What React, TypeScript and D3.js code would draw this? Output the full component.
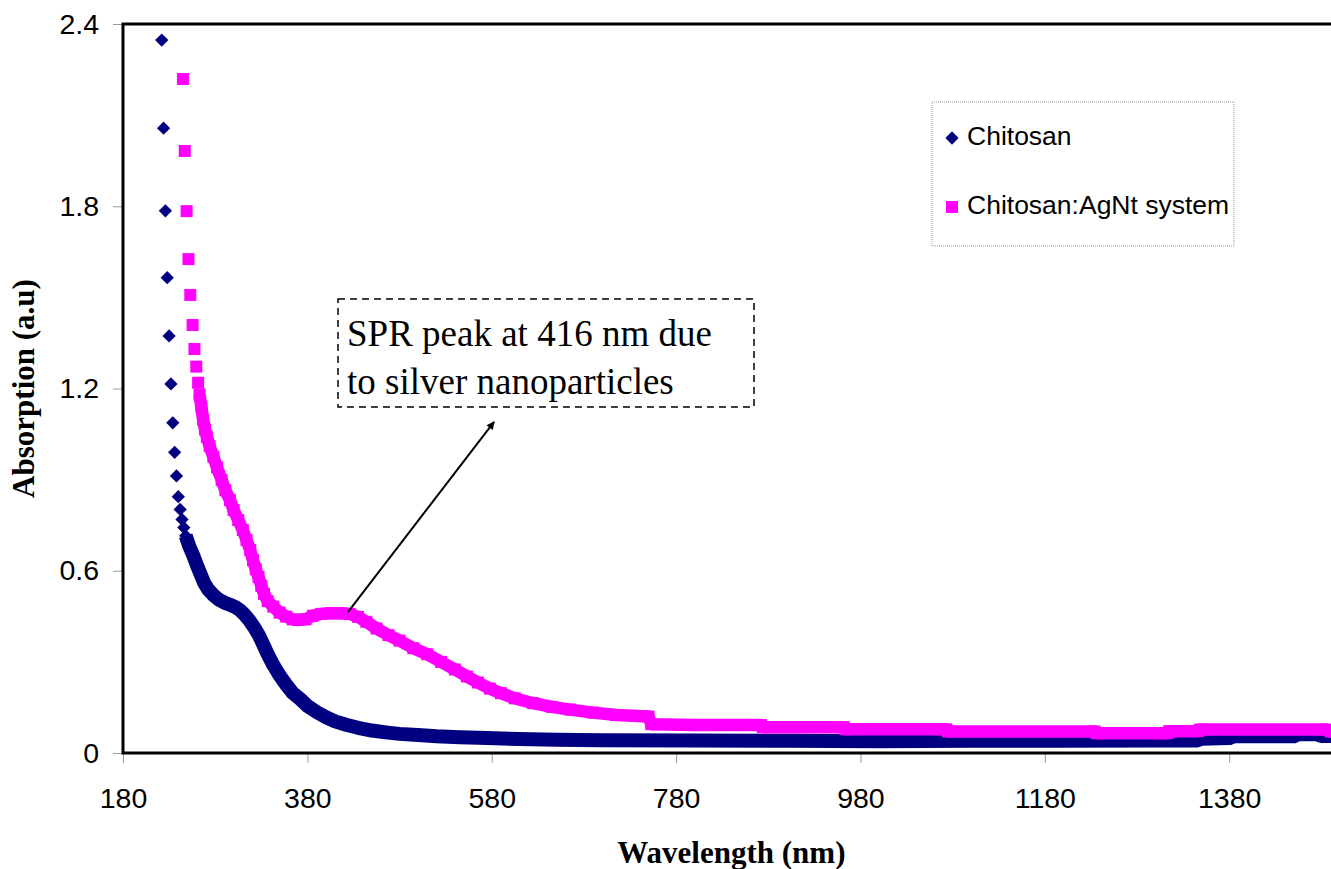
import React, { useEffect, useRef } from "react";
import * as d3 from "d3";

// Chitosan: isolated readings at the top, then the dense trace
const chitosanSparseNm = [222, 224, 226, 228, 230, 232, 234, 236, 238, 240, 242, 244, 246];
const chitosanSparseAbs = [2.347, 2.057, 1.785, 1.565, 1.373, 1.215, 1.087, 0.99, 0.912, 0.844, 0.802, 0.769, 0.742];
const chitosanNm = [
  248, 252, 256, 260, 264, 268, 272, 278, 284, 290, 296, 302, 307, 312, 317, 322, 327, 332, 337, 343,
  350, 357, 364, 372, 380, 390, 400, 410, 422, 435, 450, 465, 480, 500, 520, 545, 575, 610, 650, 700,
  800, 900, 1000, 1100, 1200, 1300, 1345, 1350, 1380, 1385, 1450, 1455, 1475, 1480, 1500,
];
const chitosanAbs = [
  0.715, 0.68, 0.652, 0.62, 0.59, 0.56, 0.54, 0.52, 0.505, 0.495, 0.488, 0.48, 0.47, 0.455, 0.437, 0.415, 0.39, 0.358, 0.325, 0.29,
  0.255, 0.225, 0.198, 0.178, 0.155, 0.135, 0.118, 0.104, 0.093, 0.083, 0.074, 0.068, 0.063, 0.059, 0.055, 0.052, 0.049, 0.046, 0.044, 0.042,
  0.041, 0.04, 0.039, 0.04, 0.04, 0.041, 0.041, 0.047, 0.049, 0.055, 0.055, 0.062, 0.062, 0.056, 0.056,
];

// Chitosan:AgNt system
const agntSparseNm = [245, 247, 249, 251, 253, 255.5, 257.5, 259.5, 261.5];
const agntSparseAbs = [2.219, 1.982, 1.784, 1.626, 1.508, 1.409, 1.33, 1.272, 1.219];
const agntNm = [
  263, 265, 267, 269, 271, 274, 278, 282, 287, 291, 296, 300, 305, 310, 314, 318, 321, 324, 327, 330,
  333, 337, 343, 350, 357, 364, 370, 378, 386, 395, 405, 416, 426, 435, 444, 455, 468, 480, 495, 510,
  525, 540, 553, 565, 578, 590, 605, 625, 645, 665, 690, 715, 750, 753, 800, 872, 874, 962, 964, 1073,
  1075, 1234, 1236, 1313, 1315, 1346, 1348, 1486, 1490, 1500,
];
const agntAbs = [
  1.18, 1.14, 1.096, 1.065, 1.041, 1.01, 0.975, 0.94, 0.899, 0.865, 0.833, 0.8, 0.767, 0.734, 0.701, 0.668, 0.635, 0.605, 0.58, 0.55,
  0.524, 0.5, 0.482, 0.462, 0.449, 0.44, 0.438, 0.44, 0.452, 0.458, 0.46, 0.46, 0.458, 0.448, 0.432, 0.41, 0.388, 0.37, 0.345, 0.325,
  0.3, 0.275, 0.252, 0.232, 0.212, 0.197, 0.18, 0.164, 0.152, 0.143, 0.133, 0.125, 0.12, 0.095, 0.092, 0.092, 0.085, 0.085, 0.078, 0.078,
  0.071, 0.071, 0.065, 0.065, 0.072, 0.072, 0.077, 0.077, 0.071, 0.071,
];

const xTicks = [180, 380, 580, 780, 980, 1180, 1380];
const yTicks = [0, 0.6, 1.2, 1.8, 2.4];
const seriesNames = ["Chitosan", "Chitosan:AgNt system"];

const NAVY = "#000080";
const MAGENTA = "#ff00ff";
const SANS = "'Liberation Sans', Arial, sans-serif";
const SERIF = "'Liberation Serif', 'Times New Roman', serif";

const App = () => {
  const chartRef = useRef<SVGSVGElement>(null);

  useEffect(() => {
    const svg = d3.select(chartRef.current);
    svg.selectAll("*").remove();

    const left = 123, top = 24, bottom = 753;
    const x = d3.scaleLinear().domain([180, 1500]).range([left, 1339.8]);
    const y = d3.scaleLinear().domain([0, 2.4]).range([bottom, top]);

    // axes (ticks + labels only, frame drawn later)
    const yAxis = svg.append("g")
      .attr("transform", `translate(${left},0)`)
      .call(d3.axisLeft(y).tickValues(yTicks).tickFormat(d => d3.format("")(d as number)).tickSize(10).tickSizeOuter(0).tickPadding(14));
    const xAxis = svg.append("g")
      .attr("transform", `translate(0,${bottom})`)
      .call(d3.axisBottom(x).tickValues(xTicks).tickSize(10).tickSizeOuter(0).tickPadding(25).tickFormat(d => String(d)));
    [yAxis, xAxis].forEach(g => {
      g.select(".domain").remove();
      g.selectAll(".tick line").attr("stroke", "#999");
      g.selectAll(".tick text")
        .attr("fill", "#000")
        .style("font-family", SANS)
        .style("font-size", "28.5px");
    });

    const diamond = d3.symbol(d3.symbolSquare, 88)();
    const square = d3.symbol(d3.symbolSquare, 144)();

    const drawSeries = (sparseNm: number[], sparseAbs: number[], nm: number[], abs: number[], color: string, shape: string | null, rot: number, width: number) => {
      const g = svg.append("g");
      const band = nm.map((v, i) => [v, abs[i]] as [number, number]);
      g.append("path")
        .attr("d", d3.line<[number, number]>().x(d => x(d[0])).y(d => y(d[1]))(band))
        .attr("fill", "none")
        .attr("stroke", color)
        .attr("stroke-width", width)
        .attr("stroke-linejoin", "round");
      const pts = sparseNm.map((v, i) => [v, sparseAbs[i]] as [number, number]).concat(band);
      g.selectAll("path.pt")
        .data(pts)
        .enter()
        .append("path")
        .attr("class", "pt")
        .attr("d", shape)
        .attr("transform", d => `translate(${x(d[0])},${y(d[1])}) rotate(${rot})`)
        .attr("fill", color);
    };

    drawSeries(chitosanSparseNm, chitosanSparseAbs, chitosanNm, chitosanAbs, NAVY, diamond, 45, 14);
    drawSeries(agntSparseNm, agntSparseAbs, agntNm, agntAbs, MAGENTA, square, 0, 12.5);

    // plot frame
    svg.append("rect")
      .attr("x", left).attr("y", top)
      .attr("width", x(1500) - left).attr("height", bottom - top)
      .attr("fill", "none").attr("stroke", "#000").attr("stroke-width", 3);

    // legend
    const lg = svg.append("g");
    lg.append("rect")
      .attr("x", 932).attr("y", 102).attr("width", 302).attr("height", 144)
      .attr("fill", "#fff").attr("stroke", "#999").attr("stroke-width", 1).attr("stroke-dasharray", "1,1");
    const legendRows = [
      { name: seriesNames[0], color: NAVY, shape: diamond, rot: 45, cy: 138 },
      { name: seriesNames[1], color: MAGENTA, shape: square, rot: 0, cy: 207 },
    ];
    legendRows.forEach(r => {
      lg.append("path").attr("d", r.shape).attr("fill", r.color)
        .attr("transform", `translate(952,${r.cy}) rotate(${r.rot})`);
      lg.append("text").attr("x", 967).attr("y", r.cy + 7)
        .style("font-family", SANS).style("font-size", "26.5px").text(r.name);
    });

    // annotation
    const an = svg.append("g");
    an.append("rect")
      .attr("x", 338).attr("y", 299).attr("width", 416).attr("height", 108)
      .attr("fill", "#fff").attr("stroke", "#000").attr("stroke-width", 1.5).attr("stroke-dasharray", "7,5");
    ["SPR peak at 416 nm due", "to silver nanoparticles"].forEach((t, i) => {
      an.append("text").attr("x", 347).attr("y", 346 + i * 48)
        .style("font-family", SERIF).style("font-size", "37px").text(t);
    });
    svg.append("defs").append("marker")
      .attr("id", "arr").attr("viewBox", "0 0 10 10").attr("refX", 9).attr("refY", 5)
      .attr("markerWidth", 10).attr("markerHeight", 8).attr("markerUnits", "userSpaceOnUse")
      .attr("orient", "auto")
      .append("path").attr("d", "M0,0L10,5L0,10Z").attr("fill", "#000");
    an.append("line")
      .attr("x1", x(424)).attr("y1", y(0.464))
      .attr("x2", x(582.5)).attr("y2", y(1.09))
      .attr("stroke", "#000").attr("stroke-width", 2).attr("marker-end", "url(#arr)");

    // axis titles
    svg.append("text")
      .attr("x", (left + x(1500)) / 2).attr("y", 863)
      .attr("text-anchor", "middle")
      .style("font-family", SERIF).style("font-weight", "bold").style("font-size", "31px")
      .text("Wavelength (nm)");
    svg.append("text")
      .attr("transform", `translate(34,${(top + bottom) / 2}) rotate(-90)`)
      .attr("text-anchor", "middle")
      .style("font-family", SERIF).style("font-weight", "bold").style("font-size", "31px")
      .text("Absorption (a.u)");
  }, []);

  return (
    <svg ref={chartRef} width={1331} height={869} style={{ position: "absolute", left: 0, top: 0, background: "#fff" }}></svg>
  );
};

export default App;
